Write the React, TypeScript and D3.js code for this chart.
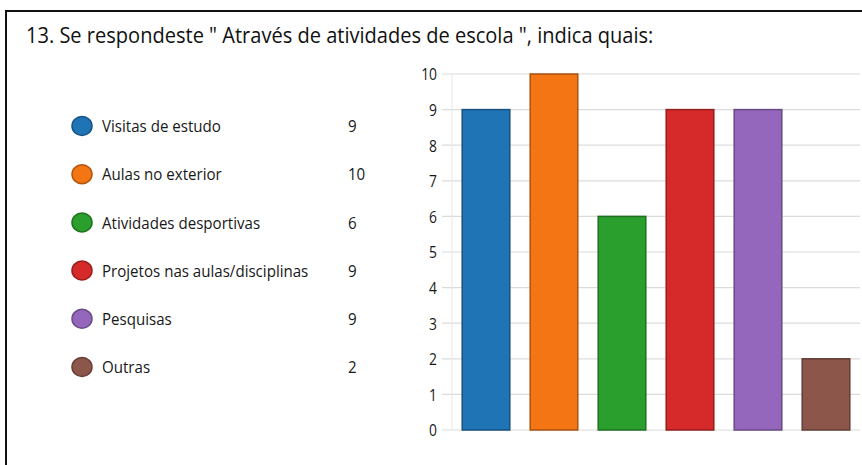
import React from "react";
import * as d3 from "d3";

const title = '13. Se respondeste " Através de atividades de escola ", indica quais:';
const categories = [
  "Visitas de estudo",
  "Aulas no exterior",
  "Atividades desportivas",
  "Projetos nas aulas/disciplinas",
  "Pesquisas",
  "Outras",
];
const values = [9, 10, 6, 9, 9, 2];
const colors = ["#1f74b6", "#f47514", "#2b9f2d", "#d62a2a", "#9467bd", "#8c564b"];
const yTicks = [0, 1, 2, 3, 4, 5, 6, 7, 8, 9, 10];

const W = 862;
const H = 465;
const FONT = "'Open Sans', 'Noto Sans', sans-serif";
const SQ = 0.84;
const SQ_LEG = 0.915;

export default function App() {
  const y = d3.scaleLinear().domain([0, 10]).range([430, 74]);
  const x = d3
    .scaleBand<string>()
    .domain(categories)
    .range([452, 860])
    .paddingInner(0.3)
    .paddingOuter(0.15);
  const legendY = d3
    .scalePoint<string>()
    .domain(categories)
    .range([126, 367]);

  return (
    <svg
      width={W}
      height={H}
      style={{ position: "absolute", left: 0, top: 0, background: "#fff" }}
      fontFamily={FONT}
    >
      <rect x={0} y={0} width={W} height={H} fill="#fff" />
      {/* frame */}
      <line x1={6} y1={11} x2={W} y2={11} stroke="#111" strokeWidth={2} />
      <line x1={6} y1={10} x2={6} y2={H} stroke="#111" strokeWidth={2} />

      {/* title */}
      <text
        transform={`translate(26,43) scale(0.955,1)`}
        fontSize={21}
        fill="#111"
      >
        {title}
      </text>

      {/* legend */}
      {categories.map((c, i) => {
        const cy = legendY(c)!;
        const col = d3.color(colors[i])!;
        return (
          <g key={c}>
            <ellipse
              cx={82}
              cy={cy}
              rx={10}
              ry={9.5}
              fill={colors[i]}
              stroke={col.darker(0.9).toString()}
              strokeWidth={1.5}
            />
            <text
              transform={`translate(102,${cy}) scale(${SQ_LEG},1)`}
              fontSize={16.5}
              dominantBaseline="central"
              fill="#181818"
            >
              {c}
            </text>
            <text
              transform={`translate(348,${cy}) scale(${SQ_LEG},1)`}
              fontSize={16.5}
              dominantBaseline="central"
              fill="#181818"
            >
              {values[i]}
            </text>
          </g>
        );
      })}

      {/* grid */}
      {yTicks.map((t) => (
        <g key={t}>
          <line
            x1={442}
            x2={860}
            y1={y(t)}
            y2={y(t)}
            stroke="#dcdcdc"
            strokeWidth={1.2}
          />
          <text
            transform={`translate(437,${y(t)}) scale(${SQ},1)`}
            fontSize={16.5}
            textAnchor="end"
            dominantBaseline="central"
            fill="#181818"
          >
            {t}
          </text>
        </g>
      ))}
      <line x1={452} x2={452} y1={y(10)} y2={y(0)} stroke="#e6e6e6" strokeWidth={1} />

      {/* bars */}
      {categories.map((c, i) => {
        const col = d3.color(colors[i])!;
        return (
          <rect
            key={c}
            x={x(c)!}
            y={y(values[i])}
            width={x.bandwidth()}
            height={y(0) - y(values[i])}
            fill={colors[i]}
            stroke={col.darker(1).toString()}
            strokeWidth={1.5}
          />
        );
      })}
    </svg>
  );
}
